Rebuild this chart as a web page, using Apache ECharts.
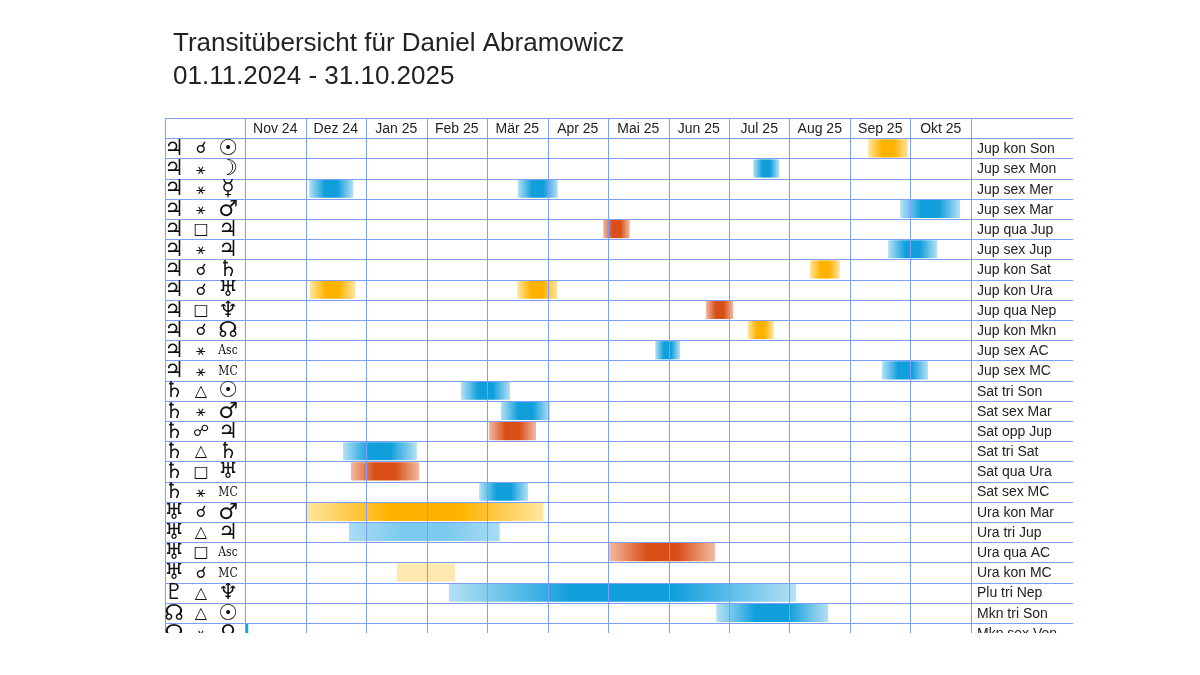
<!DOCTYPE html>
<html>
<head>
<meta charset="utf-8">
<script src="https://cdn.jsdelivr.net/npm/echarts@6/dist/echarts.min.js"></script>
<style>html,body{margin:0;padding:0;background:#fff}#chart{width:1200px;height:675px}</style>
</head>
<body>
<div id="chart"></div>
<script>
// months shown in header
var months = ['Nov 24','Dez 24','Jan 25','Feb 25','Mär 25','Apr 25','Mai 25','Jun 25','Jul 25','Aug 25','Sep 25','Okt 25'];

// row labels (right column) and glyphs (left column)
var rowLabels = ['Jup kon Son','Jup sex Mon','Jup sex Mer','Jup sex Mar','Jup qua Jup','Jup sex Jup','Jup kon Sat','Jup kon Ura','Jup qua Nep','Jup kon Mkn','Jup sex AC','Jup sex MC','Sat tri Son','Sat sex Mar','Sat opp Jup','Sat tri Sat','Sat qua Ura','Sat sex MC','Ura kon Mar','Ura tri Jup','Ura qua AC','Ura kon MC','Plu tri Nep','Mkn tri Son','Mkn sex Ven'];

var glyph = {Jup:'♃',Sat:'♄',Ura:'♅',Plu:'♇',Mkn:'☊',Son:'☉',Mon:'☽',Mer:'☿',Mar:'♂',Nep:'♆',Ven:'♀',
  kon:'☌',sex:'⚹',qua:'□',tri:'△',opp:'☍',AC:'Asc',MC:'MC'};

// transits: [row, start month, end month, kind]  (month 0 = start of Nov 24)
var transits = [
  [0,10.30,10.96,'y'],[1,8.40,8.83,'b'],[2,1.06,1.79,'b'],[2,4.51,5.17,'b'],
  [3,10.83,11.82,'b'],[4,5.92,6.36,'r'],[5,10.63,11.44,'b'],[6,9.34,9.83,'y'],
  [7,1.07,1.82,'y'],[7,4.50,5.16,'y'],[8,7.62,8.07,'r'],[9,8.31,8.74,'y'],
  [10,6.78,7.19,'b'],[11,10.53,11.29,'b'],[12,3.57,4.38,'b'],[13,4.23,5.04,'b'],
  [14,4.03,4.81,'r'],[15,1.62,2.84,'b'],[16,1.75,2.88,'r'],[17,3.87,4.68,'b'],
  [18,1.00,4.93,'y'],[19,1.72,4.21,'lb'],[20,6.02,7.77,'r'],[21,2.51,3.47,'ly'],
  [22,3.37,9.11,'b'],[23,7.79,9.64,'b'],[24,0,0.06,'b']
];

var colors = {
  b:['#b5e1f5','#119fdc'], y:['#ffe6a0','#ffb300'], r:['#f2bba4','#d94f17'],
  lb:['#a9dcf3','#7ccbee'], ly:['#fde8b0','#fde8b0']
};

var LEFT = -80/60.5, RIGHT = 12 + 102/60.5, NROWS = 24.5;
var lineColor = '#7d9dff';

var chart = echarts.init(document.getElementById('chart'));

function gridItem(params, api){
  var kids = [];
  var xs = [LEFT];
  for (var i = 0; i <= 12; i++) xs.push(i);
  xs.push(RIGHT);
  var top = api.coord([0,-1])[1], bot = api.coord([0,NROWS])[1];
  var l = api.coord([LEFT,0])[0], r = api.coord([RIGHT,0])[0];
  xs.forEach(function(x){
    var px = Math.round(api.coord([x,0])[0]) + 0.5;
    kids.push({type:'line',shape:{x1:px,y1:top,x2:px,y2:bot},style:{stroke:lineColor,lineWidth:1}});
  });
  for (var j = -1; j <= 24; j++){
    var py = Math.round(api.coord([0,j])[1]) + 0.5;
    kids.push({type:'line',shape:{x1:l,y1:py,x2:r,y2:py},style:{stroke:lineColor,lineWidth:1}});
  }
  months.forEach(function(m,i){
    var p = api.coord([i+0.5,-0.5]);
    kids.push({type:'text',x:p[0],y:p[1]+1,style:{text:m,fill:'#222',font:'14px "Liberation Sans", Arial',align:'center',verticalAlign:'middle'}});
  });
  rowLabels.forEach(function(lab,i){
    var p = api.coord([12,i+0.5]);
    kids.push({type:'text',x:p[0]+6,y:p[1]+1,style:{text:lab,fill:'#222',font:'14px "Liberation Sans", Arial',align:'left',verticalAlign:'middle'}});
    var parts = lab.split(' ');
    var lx = api.coord([LEFT,0])[0];
    [parts[0],parts[1],parts[2]].forEach(function(pt,k){
      var g = glyph[pt];
      var small = (pt==='AC'||pt==='MC');
      var asp = k===1;
      kids.push({type:'text',x:lx+9+k*27,y:p[1]+1,style:{text:g,fill:'#111',
        font: small ? '12px "DejaVu Serif Condensed", "DejaVu Serif"' : (asp ? '16px "DejaVu Sans"' : 'bold 22px "DejaVu Sans"'),
        align:'center',verticalAlign:'middle'}});
    });
  });
  return {type:'group',children:kids};
}

function barItem(params, api){
  var row = api.value(0), s = api.value(1), e = api.value(2);
  var c = colors[transits[params.dataIndex][3]];
  var p1 = api.coord([s,row+0.5]), p2 = api.coord([e,row+0.5]);
  var h = api.size([0,1])[1] - 2;
  return {type:'rect',shape:{x:p1[0],y:p1[1]-h/2,width:Math.max(p2[0]-p1[0],1),height:h},
    style:{fill:new echarts.graphic.LinearGradient(0,0,1,0,[
      {offset:0,color:c[0]},{offset:0.35,color:c[1]},{offset:0.65,color:c[1]},{offset:1,color:c[0]}])}};
}

chart.setOption({
  animation:false,
  title:{text:'Transitübersicht für Daniel Abramowicz\n01.11.2024 - 31.10.2025',left:168,top:22,
    textStyle:{fontFamily:'"Liberation Sans", Arial',fontWeight:'normal',fontSize:26,color:'#222',lineHeight:33}},
  grid:{left:165,right:127,top:118,height:515},
  xAxis:{type:'value',min:LEFT,max:RIGHT,show:false},
  yAxis:{type:'value',min:-1,max:NROWS,inverse:true,show:false},
  series:[
    {type:'custom',clip:true,renderItem:barItem,
      data:transits.map(function(t){return [t[0],t[1],t[2]];}),z:2},
    {type:'custom',clip:true,renderItem:gridItem,data:[[0,0]],z:3,silent:true}
  ]
});
</script>
</body>
</html>
